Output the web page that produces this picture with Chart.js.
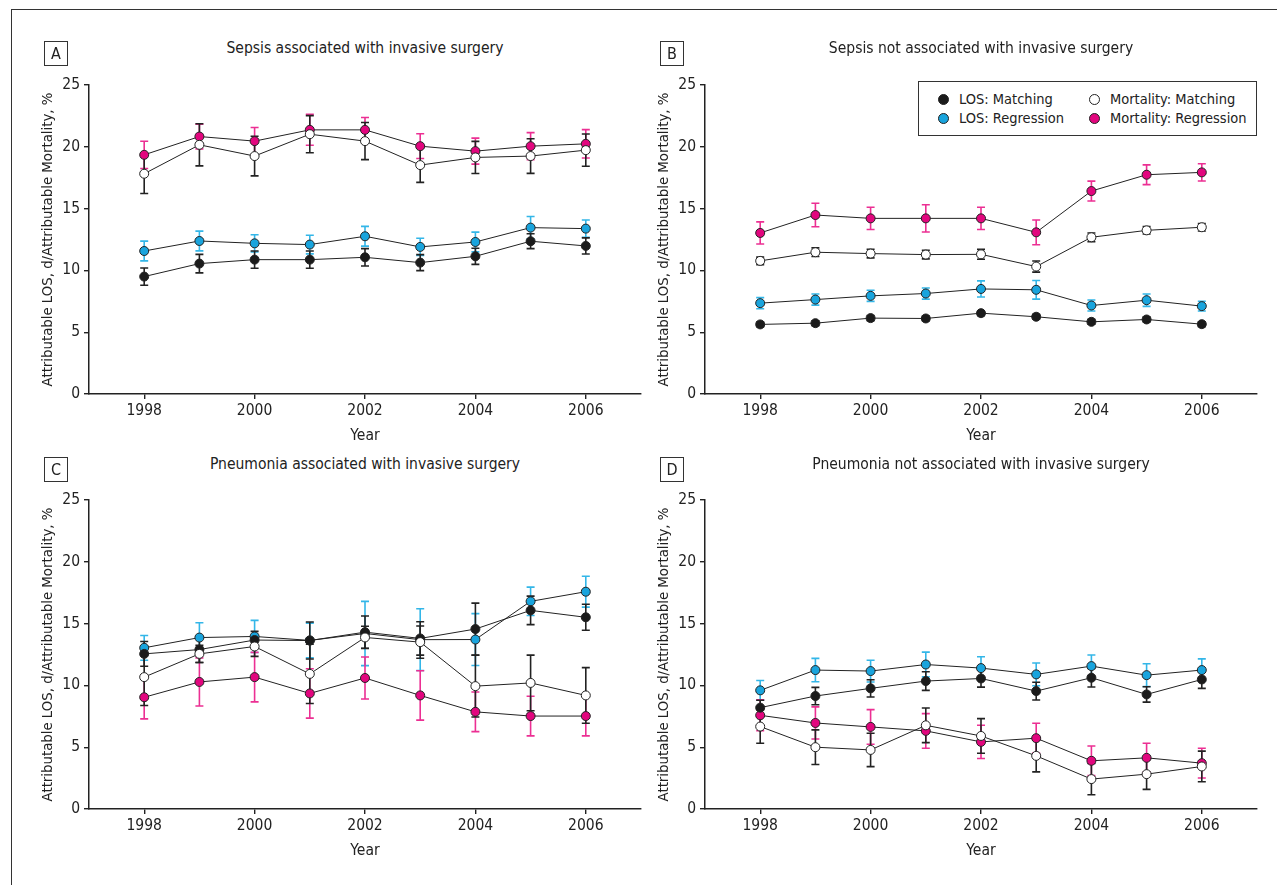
<!DOCTYPE html>
<html lang="en">
<head>
<meta charset="UTF-8">
<title>Attributable LOS and mortality, 1998-2006</title>
<script src="https://cdn.jsdelivr.net/npm/chart.js@4.4.1/dist/chart.umd.min.js"></script>
<style>
  body { margin: 0; background: #fff; width: 1277px; height: 885px; position: relative; overflow: hidden;
         font-family: "Liberation Sans Narrow", "Arial Narrow", "DejaVu Sans Condensed", sans-serif; color: #222; }
  .frame { position: absolute; left: 11px; top: 9px; width: 1300px; height: 900px;
           border-left: 1.5px solid #333; border-top: 1.5px solid #333; }
  canvas { position: absolute; }
  .letter { position: absolute; width: 22px; height: 23px; border: 1px solid #333;
            text-align: center; line-height: 24px; font-size: 16px; }
  .title { position: absolute; font-size: 15.5px; line-height: 20px; white-space: nowrap; transform: translateX(-50%); }
  .legend { position: absolute; left: 918px; top: 81px; width: 337px; height: 53px; border: 1px solid #333; background: #fff; }
  .item { position: absolute; font-size: 14.5px; line-height: 20px; white-space: nowrap; }
  .dot { position: absolute; width: 9px; height: 9px; border: 1px solid #222; border-radius: 50%; }
</style>
</head>
<body>
<div class="frame"></div>

<canvas id="chartA" width="660" height="390" style="left:0px;top:60px"></canvas>
<canvas id="chartB" width="660" height="390" style="left:616px;top:60px"></canvas>
<canvas id="chartC" width="660" height="390" style="left:0px;top:475px"></canvas>
<canvas id="chartD" width="660" height="390" style="left:616px;top:475px"></canvas>

<div class="letter" style="left:44px;top:41px">A</div>
<div class="letter" style="left:660px;top:41px">B</div>
<div class="letter" style="left:44px;top:457px">C</div>
<div class="letter" style="left:660px;top:457px">D</div>

<div class="title" id="titleA" style="left:365px;top:38px"></div>
<div class="title" id="titleB" style="left:981px;top:38px"></div>
<div class="title" id="titleC" style="left:365px;top:454px"></div>
<div class="title" id="titleD" style="left:981px;top:454px"></div>

<div class="legend" id="legend"></div>

<script>
// ---- data ----
const years = [1998, 1999, 2000, 2001, 2002, 2003, 2004, 2005, 2006];
const xTicks = [1998, 2000, 2002, 2004, 2006];
const yTicks = [0, 5, 10, 15, 20, 25];
const seriesNames = ['LOS: Matching', 'LOS: Regression', 'Mortality: Matching', 'Mortality: Regression'];
const panelTitles = [
  'Sepsis associated with invasive surgery',
  'Sepsis not associated with invasive surgery',
  'Pneumonia associated with invasive surgery',
  'Pneumonia not associated with invasive surgery'
];

// A: sepsis, with surgery
const aLosM = [9.5, 10.55, 10.87, 10.87, 11.06, 10.63, 11.14, 12.36, 11.98];
const aLosMErr = [0.7, 0.75, 0.7, 0.7, 0.7, 0.65, 0.65, 0.6, 0.65];
const aLosR = [11.57, 12.38, 12.19, 12.09, 12.76, 11.9, 12.3, 13.46, 13.38];
const aLosRErr = [0.8, 0.8, 0.7, 0.75, 0.8, 0.7, 0.8, 0.9, 0.7];
const aMortM = [17.82, 20.16, 19.25, 21.02, 20.46, 18.52, 19.14, 19.25, 19.73];
const aMortMErr = [1.6, 1.7, 1.6, 1.5, 1.5, 1.4, 1.3, 1.4, 1.3];
const aMortR = [19.35, 20.83, 20.46, 21.37, 21.37, 20.05, 19.65, 20.05, 20.24];
const aMortRErr = [1.1, 1.0, 1.1, 1.25, 1.0, 1.0, 1.05, 1.1, 1.15];

// B: sepsis, no surgery
const bLosM = [5.63, 5.73, 6.14, 6.11, 6.54, 6.25, 5.84, 6.03, 5.65];
const bLosMErr = [0.2, 0.2, 0.2, 0.2, 0.2, 0.2, 0.2, 0.2, 0.2];
const bLosR = [7.35, 7.64, 7.94, 8.13, 8.5, 8.43, 7.16, 7.59, 7.11];
const bLosRErr = [0.45, 0.45, 0.45, 0.45, 0.65, 0.75, 0.45, 0.5, 0.4];
const bMortM = [10.77, 11.47, 11.36, 11.28, 11.3, 10.31, 12.68, 13.24, 13.49];
const bMortMErr = [0.3, 0.35, 0.35, 0.35, 0.4, 0.45, 0.35, 0.3, 0.3];
const bMortR = [13.03, 14.48, 14.21, 14.21, 14.21, 13.08, 16.42, 17.74, 17.93];
const bMortRErr = [0.9, 0.95, 0.9, 1.1, 0.9, 1.0, 0.8, 0.8, 0.7];

// C: pneumonia, with surgery
const cLosM = [12.55, 12.9, 13.67, 13.63, 14.31, 13.8, 14.56, 16.07, 15.51];
const cLosMErr = [1.0, 1.05, 0.7, 1.5, 1.3, 1.35, 2.1, 1.15, 1.05];
const cLosR = [13.04, 13.87, 13.96, 13.64, 14.2, 13.7, 13.71, 16.8, 17.58];
const cLosRErr = [1.0, 1.2, 1.3, 1.4, 2.6, 2.5, 2.1, 1.15, 1.25];
const cMortM = [10.67, 12.55, 13.15, 10.93, 13.88, 13.5, 9.94, 10.2, 9.19];
const cMortMErr = [2.3, 0.7, 0.8, 2.4, 0.9, 1.3, 2.5, 2.25, 2.25];
const cMortR = [9.04, 10.28, 10.67, 9.35, 10.6, 9.19, 7.86, 7.52, 7.52];
const cMortRErr = [1.75, 1.95, 2.0, 2.0, 1.7, 2.0, 1.6, 1.6, 1.6];

// D: pneumonia, no surgery
const dLosM = [8.2, 9.14, 9.76, 10.35, 10.56, 9.54, 10.62, 9.27, 10.48];
const dLosMErr = [0.6, 0.7, 0.7, 0.75, 0.7, 0.72, 0.75, 0.62, 0.72];
const dLosR = [9.6, 11.24, 11.16, 11.69, 11.4, 10.89, 11.56, 10.83, 11.24];
const dLosRErr = [0.8, 0.95, 0.88, 1.0, 0.92, 0.92, 0.9, 0.92, 0.91];
const dMortM = [6.67, 5.0, 4.78, 6.77, 5.91, 4.3, 2.42, 2.82, 3.44];
const dMortMErr = [1.35, 1.4, 1.35, 1.4, 1.4, 1.3, 1.27, 1.23, 1.24];
const dMortR = [7.58, 6.96, 6.64, 6.32, 5.43, 5.73, 3.9, 4.14, 3.71];
const dMortRErr = [1.25, 1.3, 1.4, 1.4, 1.34, 1.21, 1.2, 1.18, 1.2];

// ---- styling ----
const FONT = '"Liberation Sans Narrow", "Arial Narrow", "DejaVu Sans Condensed", sans-serif';
const INK = '#222';
// order: lower number is drawn on top
const styles = [
  { fill: '#1b1b1b', err: '#222222', order: 1 },   // LOS matching
  { fill: '#19a4dd', err: '#33b6e8', order: 3 },   // LOS regression
  { fill: '#ffffff', err: '#222222', order: 0 },   // mortality matching
  { fill: '#e2067e', err: '#ec2f93', order: 2 }    // mortality regression
];

const errorBars = {
  id: 'errorBars',
  beforeDatasetsDraw(chart) {
    const ctx = chart.ctx;
    const yScale = chart.scales.y;
    const metas = chart.getSortedVisibleDatasetMetas().slice().reverse();
    metas.forEach(meta => {
      const ds = chart.data.datasets[meta.index];
      ctx.save();
      ctx.strokeStyle = ds.errColor;
      ctx.lineWidth = 1.6;
      meta.data.forEach((pt, i) => {
        const v = ds.data[i].y, e = ds.err[i];
        const top = yScale.getPixelForValue(v + e);
        const bot = yScale.getPixelForValue(v - e);
        ctx.beginPath();
        ctx.moveTo(pt.x, top); ctx.lineTo(pt.x, bot);
        ctx.moveTo(pt.x - 4, top); ctx.lineTo(pt.x + 4, top);
        ctx.moveTo(pt.x - 4, bot); ctx.lineTo(pt.x + 4, bot);
        ctx.stroke();
      });
      ctx.restore();
    });
  }
};

function makeChart(id, values, errs) {
  const datasets = values.map((vals, s) => ({
    label: seriesNames[s],
    data: years.map((yr, i) => ({ x: yr, y: vals[i] })),
    err: errs[s],
    errColor: styles[s].err,
    order: styles[s].order,
    borderColor: INK,
    borderWidth: 1,
    pointRadius: 4.5,
    pointBorderWidth: 1,
    pointBorderColor: INK,
    pointBackgroundColor: styles[s].fill,
    tension: 0,
    fill: false
  }));

  const tickFont = { family: FONT, size: 15.5 };
  new Chart(document.getElementById(id), {
    type: 'line',
    data: { datasets },
    plugins: [errorBars],
    options: {
      responsive: false,
      animation: false,
      layout: { padding: { left: 0, top: 25, right: 19, bottom: 0 } },
      plugins: { legend: { display: false }, tooltip: { enabled: false }, title: { display: false } },
      scales: {
        x: {
          type: 'linear', min: 1997, max: 2007,
          afterBuildTicks: s => { s.ticks = xTicks.map(v => ({ value: v })); },
          afterFit: s => { s.height = 56; },
          grid: { drawOnChartArea: false, drawTicks: true, tickLength: 5, color: INK, lineWidth: 1.4 },
          border: { display: true, color: INK, width: 1.5 },
          ticks: { color: INK, font: tickFont, padding: 3, maxRotation: 0, callback: v => String(v) },
          title: { display: true, text: 'Year', color: INK, font: tickFont, padding: { top: 0, bottom: 5 } }
        },
        y: {
          min: 0, max: 25,
          afterBuildTicks: s => { s.ticks = yTicks.map(v => ({ value: v })); },
          afterFit: s => { s.width = 89; },
          grid: { drawOnChartArea: false, drawTicks: true, tickLength: 5, color: INK, lineWidth: 1.4 },
          border: { display: true, color: INK, width: 1.5 },
          ticks: { color: INK, font: tickFont, padding: 4, callback: v => String(v) },
          title: { display: true, text: 'Attributable LOS, d/Attributable Mortality, %', color: INK,
                   font: { family: FONT, size: 14.8 }, padding: { top: 39, bottom: 0 } }
        }
      }
    }
  });
}

makeChart('chartA', [aLosM, aLosR, aMortM, aMortR], [aLosMErr, aLosRErr, aMortMErr, aMortRErr]);
makeChart('chartB', [bLosM, bLosR, bMortM, bMortR], [bLosMErr, bLosRErr, bMortMErr, bMortRErr]);
makeChart('chartC', [cLosM, cLosR, cMortM, cMortR], [cLosMErr, cLosRErr, cMortMErr, cMortRErr]);
makeChart('chartD', [dLosM, dLosR, dMortM, dMortR], [dLosMErr, dLosRErr, dMortMErr, dMortRErr]);

['titleA', 'titleB', 'titleC', 'titleD'].forEach((id, i) => {
  document.getElementById(id).textContent = panelTitles[i];
});

// legend: two columns, matching on the first row
const legend = document.getElementById('legend');
const legendSlots = [
  { s: 0, x: 24, y: 17 }, { s: 2, x: 175, y: 17 },
  { s: 1, x: 24, y: 36 }, { s: 3, x: 175, y: 36 }
];
legendSlots.forEach(slot => {
  const dot = document.createElement('div');
  dot.className = 'dot';
  dot.style.left = (slot.x - 5) + 'px';
  dot.style.top = (slot.y - 5) + 'px';
  dot.style.background = styles[slot.s].fill;
  legend.appendChild(dot);
  const txt = document.createElement('div');
  txt.className = 'item';
  txt.style.left = (slot.x + 16) + 'px';
  txt.style.top = (slot.y - 10) + 'px';
  txt.textContent = seriesNames[slot.s];
  legend.appendChild(txt);
});
</script>
</body>
</html>
